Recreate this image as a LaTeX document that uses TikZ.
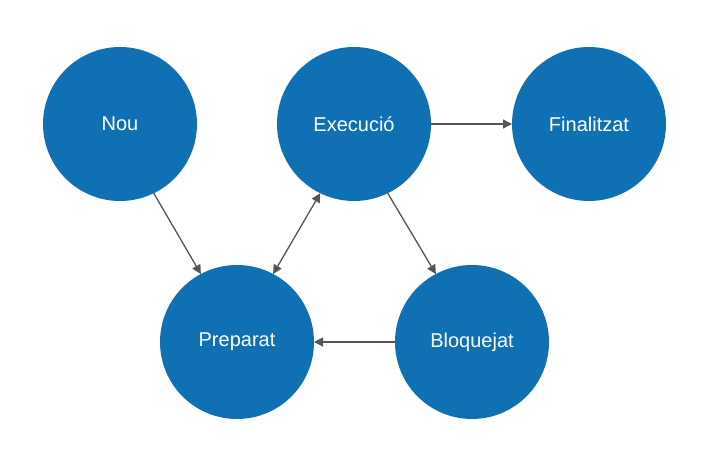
\documentclass[tikz,border=0pt]{standalone}
\usepackage{fontspec}
\setmainfont{Liberation Sans}
\usetikzlibrary{arrows.meta}
\definecolor{stateblue}{RGB}{16,112,180}
\definecolor{arrowgray}{RGB}{85,85,85}
\tikzset{
  state/.style={circle, fill=stateblue, draw=none, minimum size=154pt, inner sep=0pt, outer sep=0pt, text=white, font=\fontsize{20}{24}\selectfont},
  conn/.style={draw=arrowgray, line width=1.3pt, -{Triangle[length=9pt,width=9pt]}},
  dconn/.style={draw=arrowgray, line width=1.3pt, {Triangle[length=9pt,width=9pt]}-{Triangle[length=9pt,width=9pt]}}
}
\begin{document}
\begin{tikzpicture}[x=1pt,y=-1pt]
\useasboundingbox (0,0) rectangle (709,473);
\node[state] (nou) at (120,124) {Nou};
\node[state] (exec) at (354,124) {Execució};
\node[state] (fin) at (589,124) {Finalitzat};
\node[state] (prep) at (237,342) {Preparat};
\node[state] (bloq) at (472,342) {Bloquejat};
\draw[conn] (nou.-64) -- (prep.118);
\draw[dconn] (prep.62) -- (exec.-116);
\draw[conn] (exec.-64) -- (bloq.118);
\draw[conn] (exec.east) -- (fin.west);
\draw[conn] (bloq.west) -- (prep.east);
\end{tikzpicture}
\end{document}
